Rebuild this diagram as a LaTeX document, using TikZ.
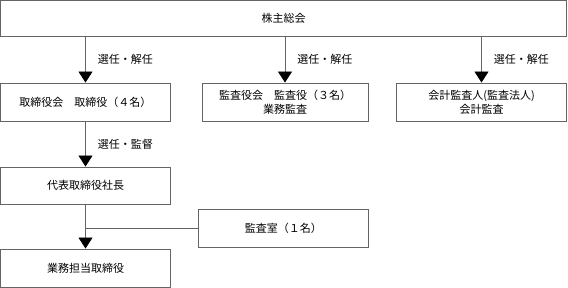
\documentclass[tikz,border=0pt]{standalone}
\usepackage{fontspec}
\setmainfont{Noto Sans CJK JP}
\usetikzlibrary{arrows.meta}
\definecolor{linegray}{RGB}{100,100,100}
\tikzset{
  box/.style={draw=linegray, line width=0.9pt, rectangle, inner sep=0pt, align=center,
    font=\fontsize{11pt}{14pt}\selectfont},
  conn/.style={draw=linegray, line width=0.9pt},
  arr/.style={conn, -{Triangle[width=14pt,length=11pt,black]}},
  lbl/.style={anchor=west, inner sep=0pt, xshift=12pt, font=\fontsize{11pt}{14pt}\selectfont}
}
\begin{document}
\begin{tikzpicture}[x=1pt,y=-1pt]
\useasboundingbox (0,0) rectangle (568,288);
\node[box, minimum width=566pt, minimum height=36pt] (top) at (283.5,18.5) {株主総会};
\node[box, minimum width=170pt, minimum height=38pt] (b1) at (85.5,102) {取締役会　取締役（４名）};
\node[box, minimum width=166pt, minimum height=38pt] (b2) at (285,102) {監査役会　監査役（３名）\\業務監査};
\node[box, minimum width=170pt, minimum height=38pt] (b3) at (481.5,102) {会計監査人(監査法人)\\会計監査};
\node[box, minimum width=170pt, minimum height=37pt] (rep) at (85.5,185.5) {代表取締役社長};
\node[box, minimum width=169.5pt, minimum height=38pt] (aud) at (283.25,228) {監査室（１名）};
\node[box, minimum width=170pt, minimum height=38pt] (exec) at (85.5,268) {業務担当取締役};
\draw[arr] (top.south -| b1.north) -- (b1.north) node[midway, lbl] {選任・解任};
\draw[arr] (top.south -| b2.north) -- (b2.north) node[midway, lbl] {選任・解任};
\draw[arr] (top.south -| b3.north) -- (b3.north) node[midway, lbl] {選任・解任};
\draw[arr] (b1.south) -- (rep.north) node[midway, lbl] {選任・監督};
\draw[arr] (rep.south) -- (exec.north);
\draw[conn] (aud.west) -- (aud.west -| rep.south);
\end{tikzpicture}
\end{document}
